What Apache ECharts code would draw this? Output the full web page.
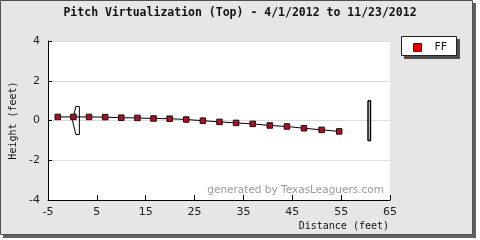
<!DOCTYPE html>
<html>
<head>
<meta charset="utf-8">
<script src="https://cdn.jsdelivr.net/npm/echarts@6/dist/echarts.min.js"></script>
<style>
html,body{margin:0;padding:0;background:#ffffff;}
#chart{width:480px;height:240px;}
</style>
</head>
<body>
<div id="chart"></div>
<script>
// Pitch trajectory (top view): distance from plate (ft) and horizontal position (ft)
var distance = [-3.0, 0.2, 3.4, 6.7, 10.0, 13.3, 16.6, 19.9, 23.3, 26.7, 30.1, 33.5, 36.9, 40.4, 43.9, 47.4, 51.0, 54.6];
var height = [0.18, 0.18, 0.18, 0.17, 0.14, 0.13, 0.10, 0.09, 0.05, -0.01, -0.07, -0.12, -0.17, -0.25, -0.30, -0.39, -0.47, -0.55];
var seriesName = 'FF';
// Home plate outline (top view) and pitching rubber
var plateX = [0, 0.708, 1.417, 1.417, 0.708, 0];
var plateY = [0, 0.708, 0.708, -0.708, -0.708, 0];
var rubberX = [60.5, 61.0, 61.0, 60.5, 60.5];
var rubberY = [1, 1, -1, -1, 1];
var xTicks = [-5, 5, 15, 25, 35, 45, 55, 65];
var yTicks = [-4, -2, 0, 2, 4];

function zip(a, b) { return a.map(function (v, i) { return [v, b[i]]; }); }

var chart = echarts.init(document.getElementById('chart'));
chart.setOption({
  animation: false,
  backgroundColor: 'transparent',
  graphic: [
    { type: 'rect', z: -10, shape: { x: 3, y: 3, width: 473, height: 235 }, style: { fill: '#606060' } },
    { type: 'rect', z: -9, shape: { x: 0.5, y: 0.5, width: 472, height: 234 }, style: { fill: '#e6e6e6', stroke: '#505050', lineWidth: 1 } },
    { type: 'rect', z: -8, shape: { x: 404, y: 39, width: 56, height: 20 }, style: { fill: '#505050' } },
    { type: 'rect', z: -7, shape: { x: 401.5, y: 36.5, width: 55, height: 19 }, style: { fill: '#ffffff', stroke: '#222', lineWidth: 1 } },
    { type: 'text', z: 10, left: 'center', top: 7, style: { text: 'Pitch Virtualization (Top) - 4/1/2012 to 11/23/2012', font: 'bold 11.5px "DejaVu Sans Mono", monospace', fill: '#111' } },
    { type: 'text', z: 10, x: 384, y: 190, style: { text: 'generated by TexasLeaguers.com', font: '10.5px "DejaVu Sans", sans-serif', fill: '#9a9a9a', align: 'right', verticalAlign: 'middle' } },
    { type: 'text', z: 10, x: 389, y: 226, style: { text: 'Distance (feet)', font: '10px "DejaVu Sans Mono", monospace', fill: '#111', align: 'right', verticalAlign: 'middle' } }
  ],
  legend: {
    left: 401, top: 36,
    orient: 'vertical',
    padding: [6, 12, 6, 12],
    itemWidth: 8, itemHeight: 8,
    icon: 'rect',
    textStyle: { fontSize: 11, fontFamily: '"DejaVu Sans", sans-serif', color: '#111', padding: [0, 0, 0, 8] },
    data: [{ name: seriesName, itemStyle: { color: '#e00000', borderColor: '#222', borderWidth: 1 } }]
  },
  grid: { left: 40, right: 90, top: 41, bottom: 40, show: true, backgroundColor: '#ffffff', borderWidth: 0 },
  xAxis: {
    type: 'value', min: -5, max: 65, interval: 10,
    axisLine: { show: true, onZero: false, lineStyle: { color: '#000', width: 1 } },
    axisTick: { show: true, inside: true, length: 5, lineStyle: { color: '#000' } },
    axisLabel: { margin: 7, fontSize: 11, fontFamily: '"DejaVu Sans", sans-serif', color: '#222' },
    splitLine: { show: false }
  },
  yAxis: {
    type: 'value', min: -4, max: 4, interval: 2,
    name: 'Height (feet)', nameLocation: 'middle', nameGap: 30,
    nameTextStyle: { fontSize: 10, fontFamily: '"DejaVu Sans Mono", monospace', color: '#111' },
    axisLine: { show: true, onZero: false, lineStyle: { color: '#000', width: 1 } },
    axisTick: { show: true, inside: true, length: 4, lineStyle: { color: '#000' } },
    axisLabel: { margin: 8, fontSize: 11, fontFamily: '"DejaVu Sans", sans-serif', color: '#222' },
    splitLine: { show: true, lineStyle: { color: '#dcdcdc', width: 1 } }
  },
  series: [
    {
      name: 'plate', type: 'line', data: zip(plateX, plateY), symbol: 'none',
      lineStyle: { color: '#000', width: 1 }, silent: true, z: 2
    },
    {
      name: 'rubber', type: 'line', data: zip(rubberX, rubberY), symbol: 'none',
      lineStyle: { color: '#000', width: 1.5 }, silent: true, z: 2
    },
    {
      name: seriesName, type: 'line', data: zip(distance, height),
      symbol: 'rect', symbolSize: 5.5, showAllSymbol: true,
      lineStyle: { color: '#000', width: 1 },
      itemStyle: { color: '#a3142a', borderColor: '#2a0a0a', borderWidth: 1 },
      z: 3
    }
  ]
});
</script>
</body>
</html>
